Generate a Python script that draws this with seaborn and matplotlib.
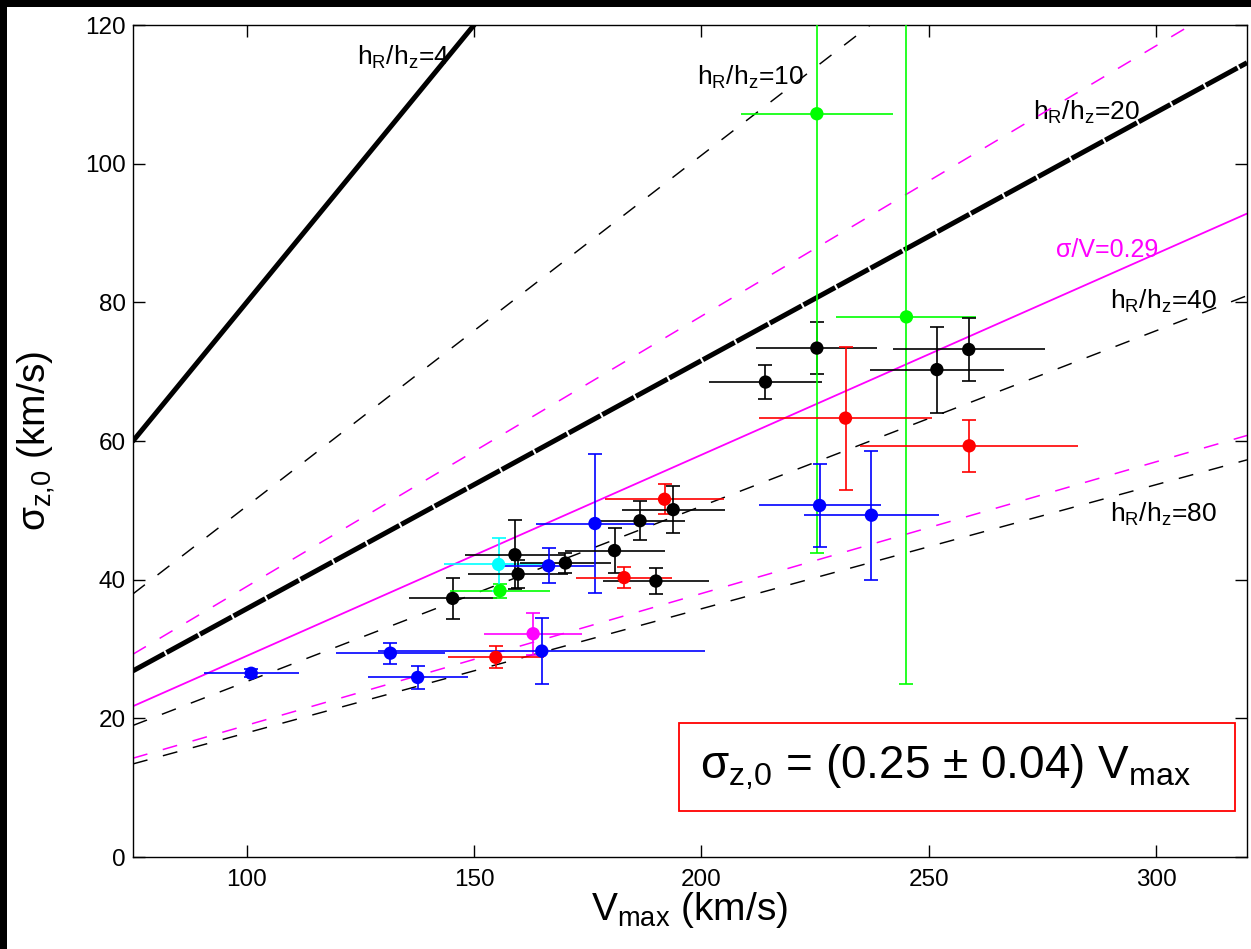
import matplotlib
matplotlib.use("Agg")
import matplotlib.pyplot as plt
from matplotlib.patches import Rectangle
import numpy as np
import pandas as pd
import seaborn as sns

# ---- galaxy measurements: Vmax (km/s), central vertical dispersion (km/s) ----
v_max = [101.0, 131.6, 137.6, 154.8, 163.0, 164.9, 145.3, 155.7, 155.4, 159.0,
         159.7, 166.4, 170.1, 176.6, 180.9, 183.0, 186.5, 190.0, 191.9, 193.8,
         214.1, 225.4, 225.4, 245.1, 231.7, 251.8, 258.8, 258.9, 226.0, 237.4]
sigma_z0 = [26.5, 29.4, 25.9, 28.8, 32.2, 29.7, 37.3, 38.4, 42.2, 43.6,
            40.8, 42.0, 42.4, 48.1, 44.2, 40.3, 48.5, 39.8, 51.6, 50.1,
            68.5, 73.4, 107.2, 77.9, 63.3, 70.3, 73.2, 59.3, 50.7, 49.3]
v_max_err = [10.4, 12.0, 11.0, 10.5, 10.7, 36.0, 9.7, 11.0, 12.0, 11.0,
             11.0, 10.0, 10.0, 13.0, 11.0, 10.6, 10.0, 11.7, 13.0, 11.3,
             12.5, 13.3, 16.7, 15.4, 19.0, 14.8, 16.7, 24.0, 13.4, 14.9]
sigma_err = [0.6, 1.5, 1.7, 1.6, 3.0, 4.7, 3.0, 1.0, 3.8, 5.0,
             2.0, 2.5, 1.5, 10.0, 3.2, 1.5, 2.8, 1.9, 2.2, 3.4,
             2.5, 3.7, 63.4, 53.0, 10.3, 6.2, 4.5, 3.7, 6.0, 9.3]
point_color = ["blue", "blue", "blue", "red", "magenta", "blue", "black", "lime", "cyan", "black",
               "black", "blue", "black", "blue", "black", "red", "black", "black", "red", "black",
               "black", "black", "lime", "lime", "red", "black", "black", "red", "blue", "blue"]

# ---- model lines sigma = slope * Vmax ----
v_range = [75, 320]
scale_ratio = [4, 10, 20, 40, 80]                 # h_R / h_z
scale_slope = [0.80, 0.506, 0.358, 0.253, 0.179]  # sigma / V for each ratio
fit_slopes = [0.39, 0.29, 0.19]                   # sigma / V fit and its spread

# label positions (data coords, left/baseline)
ratio_label_x = [124.2, 199.0, 273.0, 289.9, 289.9]
ratio_label_y = [114.2, 111.4, 106.3, 79.1, 48.4]

x_ticks = [100, 150, 200, 250, 300]
y_ticks = [0, 20, 40, 60, 80, 100, 120]

sns.set_style("ticks")
plt.rcParams["font.family"] = ["Liberation Sans", "DejaVu Sans"]
plt.rcParams["mathtext.fontset"] = "custom"
plt.rcParams["mathtext.rm"] = "Liberation Sans"
plt.rcParams["mathtext.it"] = "Liberation Sans"
plt.rcParams["mathtext.sf"] = "Liberation Sans"
plt.rcParams["mathtext.bf"] = "Liberation Sans:bold"
plt.rcParams["lines.scale_dashes"] = False
for key in ["text.color", "axes.labelcolor", "xtick.color", "ytick.color",
            "axes.edgecolor"]:
    plt.rcParams[key] = "black"

fig = plt.figure(figsize=(12.51, 9.49), dpi=100, facecolor="white")
ax = fig.add_axes([133 / 1251, 1 - 857 / 949, 1114 / 1251, 832 / 949])
ax.set_facecolor("white")

df = pd.DataFrame({"V": v_max, "sigma": sigma_z0, "dV": v_max_err,
                   "dsigma": sigma_err, "color": point_color})

# theoretical lines
line_styles = {
    4: dict(color="black", lw=3.6, ls="-"),
    10: dict(color="black", lw=1.05, dashes=(10.8, 11.5)),
    20: dict(color="black", lw=3.6, dashes=(26, 1.5)),
    40: dict(color="black", lw=1.05, dashes=(10.8, 11.5)),
    80: dict(color="black", lw=1.05, dashes=(10.8, 11.5)),
}
vv = np.array(v_range, dtype=float)
for ratio, slope in zip(scale_ratio, scale_slope):
    st = line_styles[ratio]
    sns.lineplot(x=vv, y=slope * vv, ax=ax, color=st["color"], lw=st["lw"],
                 zorder=2)
    ln = ax.lines[-1]
    if "dashes" in st:
        ln.set_dashes(st["dashes"])

fit_styles = [dict(dashes=(10.8, 11.5), lw=1.1), dict(dashes=None, lw=1.3),
              dict(dashes=(10.8, 11.5), lw=1.1)]
for slope, st in zip(fit_slopes, fit_styles):
    sns.lineplot(x=vv, y=slope * vv, ax=ax, color="magenta", lw=st["lw"], zorder=2)
    if st["dashes"] is not None:
        ax.lines[-1].set_dashes(st["dashes"])

# error bars: horizontal without caps, vertical with caps
for _, r in df.iterrows():
    ax.errorbar(r.V, r.sigma, xerr=r.dV, fmt="none", ecolor=r.color,
                elinewidth=1.2, capsize=0, zorder=3)
    ax.errorbar(r.V, r.sigma, yerr=r.dsigma, fmt="none", ecolor=r.color,
                elinewidth=1.2, capsize=5, capthick=1.2, zorder=3)

sns.scatterplot(data=df, x="V", y="sigma", hue="color",
                palette={c: c for c in df["color"].unique()},
                s=92, edgecolor="none", legend=False, ax=ax, zorder=4)

# line labels
for ratio, lx, ly in zip(scale_ratio, ratio_label_x, ratio_label_y):
    ax.text(lx, ly, r"h$_\mathrm{R}$/h$_\mathrm{z}$=%d" % ratio, fontsize=19,
            color="black", ha="left", va="baseline", zorder=1)
ax.text(278.1, 86.5, "σ/V=0.29", fontsize=18, color="magenta",
        ha="left", va="baseline", zorder=1)

# fitted relation box
ax.add_patch(Rectangle(((679 - 133) / 1114, (857 - 811) / 832),
                       (1235 - 679) / 1114, (811 - 723) / 832,
                       transform=ax.transAxes, fill=True, facecolor="white",
                       edgecolor="red", lw=1.3, zorder=5))
ax.text((700 - 133) / 1114, (857 - 767) / 832,
        r"σ$_\mathrm{z{,}0}$ = (0.25 ± 0.04) V$_\mathrm{max}$",
        transform=ax.transAxes, fontsize=33, ha="left", va="center", zorder=6)

ax.set_xlim(75, 320)
ax.set_ylim(0, 120)
ax.set_xticks(x_ticks)
ax.set_yticks(y_ticks)
ax.tick_params(direction="in", length=8.5, width=1.0, top=True, right=True,
               labelsize=17.5, colors="black")
ax.tick_params(axis="x", pad=9)
ax.tick_params(axis="y", pad=5)
for sp in ax.spines.values():
    sp.set_visible(True)
    sp.set_color("black")
    sp.set_linewidth(1.0)

ax.set_xlabel(r"V$_\mathrm{max}$ (km/s)", fontsize=28, color="black")
ax.set_ylabel(r"σ$_\mathrm{z{,}0}$ (km/s)", fontsize=28, color="black")
ax.xaxis.set_label_coords(0.5, -0.040)
ax.yaxis.set_label_coords(-0.068, 0.5)

# dark slide margin along the top and left edges
fig.add_artist(Rectangle((0, 1 - 7 / 949), 1, 7 / 949, transform=fig.transFigure,
                         facecolor="black", edgecolor="none"))
fig.add_artist(Rectangle((0, 0), 7 / 1251, 1, transform=fig.transFigure,
                         facecolor="black", edgecolor="none"))

fig.savefig("out.png", dpi=100, facecolor="white")
